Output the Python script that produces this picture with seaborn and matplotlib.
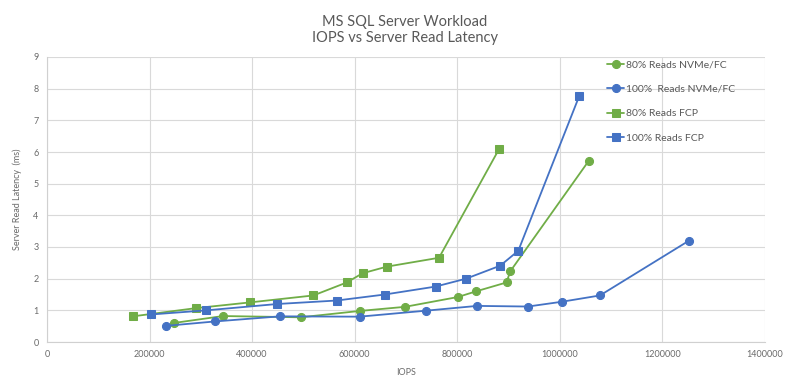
import matplotlib
matplotlib.use("Agg")
import matplotlib.pyplot as plt
import seaborn as sns
import pandas as pd
import numpy as np

# Data
nvme80_iops = [246900, 343500, 494600, 609400, 697900, 801000, 836700, 896000, 903200, 1056300]
nvme80_lat = [0.60, 0.82, 0.78, 0.98, 1.11, 1.42, 1.60, 1.88, 2.23, 5.72]

nvme100_iops = [232000, 328400, 454100, 609400, 739600, 838700, 937800, 1003500, 1078200, 1251800]
nvme100_lat = [0.51, 0.65, 0.81, 0.80, 0.99, 1.14, 1.12, 1.27, 1.47, 3.20]

fcp80_iops = [167500, 290700, 395500, 519400, 584500, 615200, 662700, 764400, 881700]
fcp80_lat = [0.81, 1.07, 1.25, 1.47, 1.88, 2.17, 2.38, 2.66, 6.10]

fcp100_iops = [203300, 310800, 449100, 565000, 658800, 757600, 817200, 883700, 918900, 1038100]
fcp100_lat = [0.87, 1.00, 1.20, 1.31, 1.50, 1.75, 2.00, 2.41, 2.88, 7.78]

series_names = ["80% Reads NVMe/FC", "100%  Reads NVMe/FC", "80% Reads FCP", "100% Reads FCP"]
x_ticks = [0, 200000, 400000, 600000, 800000, 1000000, 1200000, 1400000]
y_ticks = [0, 1, 2, 3, 4, 5, 6, 7, 8, 9]

GREEN = "#70AD47"
BLUE = "#4472C4"

sns.set_theme(style="white")
plt.rcParams['font.family'] = ['Lato', 'DejaVu Sans']

fig = plt.figure(figsize=(8.0, 3.76), dpi=100)
ax = fig.add_axes([47/800, 1-342/376, (765-47)/800, (342-57)/376])

data = [
    (nvme80_iops, nvme80_lat, series_names[0], GREEN, "o"),
    (nvme100_iops, nvme100_lat, series_names[1], BLUE, "o"),
    (fcp80_iops, fcp80_lat, series_names[2], GREEN, "s"),
    (fcp100_iops, fcp100_lat, series_names[3], BLUE, "s"),
]
for xs, ys, name, col, mk in data:
    df = pd.DataFrame({"IOPS": xs, "lat": ys})
    sns.lineplot(data=df, x="IOPS", y="lat", ax=ax, color=col, marker=mk,
                 markersize=5.8, markeredgecolor=col, linewidth=1.3,
                 label=name, sort=False)

ax.set_xlim(0, 1400000)
ax.set_ylim(0, 9)
ax.set_xticks(x_ticks)
ax.set_xticklabels([str(v) for v in x_ticks])
ax.set_yticks(y_ticks)
ax.set_yticklabels([str(v) for v in y_ticks])
ax.grid(True, color="#d9d9d9", linewidth=0.8)
ax.set_axisbelow(True)
for s in ["top", "right"]:
    ax.spines[s].set_visible(False)
for s in ["left", "bottom"]:
    ax.spines[s].set_color("#d0d0d0")
    ax.spines[s].set_linewidth(0.8)
ax.tick_params(axis="both", labelsize=6.5, colors="#6a6a6a", length=0, pad=6)
ax.set_xlabel("IOPS", fontsize=6.5, color="#6a6a6a", labelpad=6)
ax.set_ylabel("Server Read Latency  (ms)", fontsize=6.5, color="#6a6a6a", labelpad=8)

fig.text(0.506, 0.942, "MS SQL Server Workload", ha="center", va="center", fontsize=10.5, color="#595959")
fig.text(0.506, 0.898, "IOPS vs Server Read Latency", ha="center", va="center", fontsize=10.5, color="#595959")

leg = ax.legend(loc="upper left", bbox_to_anchor=(603/800, 1-56/376), bbox_transform=fig.transFigure,
                frameon=False, fontsize=7.5, handlelength=1.6, handletextpad=0.2,
                labelspacing=1.45, borderaxespad=0)
for t in leg.get_texts():
    t.set_color("#595959")

fig.savefig("out.png", dpi=100, facecolor="white")
